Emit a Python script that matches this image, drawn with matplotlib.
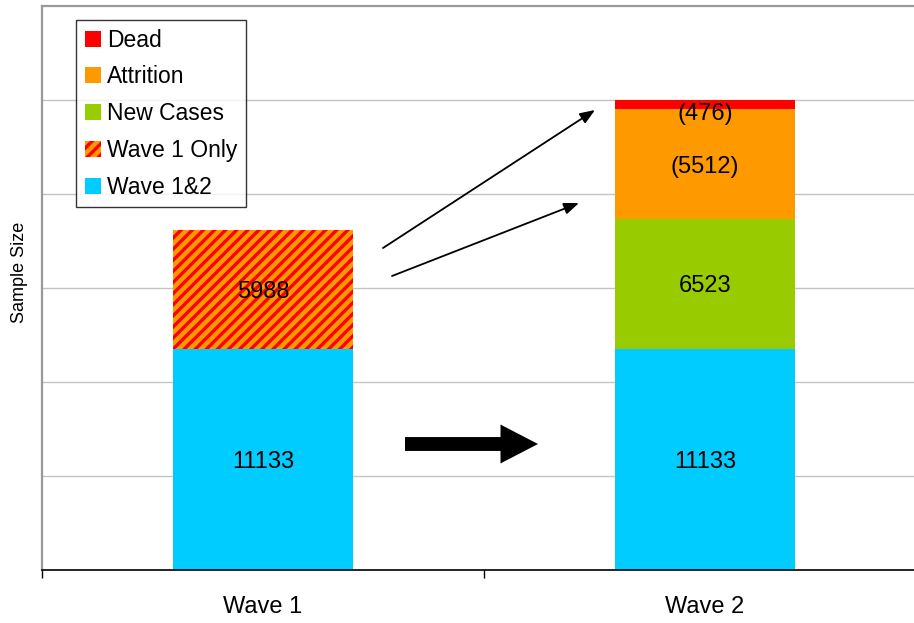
import matplotlib
matplotlib.use("Agg")
import matplotlib.pyplot as plt
import numpy as np

plt.rcParams['font.family'] = ['Liberation Sans', 'DejaVu Sans']
plt.rcParams['hatch.linewidth'] = 2.4

categories = ['Wave 1', 'Wave 2']
wave12 = [11133, 11133]
wave1_only = [5988, 0]
new_cases = [0, 6523]
attrition = [0, 5512]
dead = [0, 476]

labels_wave12 = ['11133', '11133']
labels_wave1_only = ['5988', '']
labels_new = ['', '6523']
labels_attr = ['', '(5512)']
labels_dead = ['', '(476)']

C_BLUE = '#00CCFF'
C_GREEN = '#99CC00'
C_ORANGE = '#FF9900'
C_RED = '#FF0000'

fig = plt.figure(figsize=(9.14, 6.23), dpi=100)
W, H = 914, 623
ax = fig.add_axes([42 / W, 53 / H, 884 / W, 564 / H])

x = np.arange(len(categories))
bw = 0.405

b0 = np.zeros(len(categories))
h_blue = ax.bar(x, wave12, bw, bottom=b0, color=C_BLUE, linewidth=0, zorder=2, label='Wave 1&2')
b1 = b0 + np.array(wave12)
h_hatch = ax.bar(x, wave1_only, bw, bottom=b1, facecolor=C_ORANGE, edgecolor=C_RED,
                 hatch='///', linewidth=0, zorder=2, label='Wave 1 Only')
b2 = b1 + np.array(wave1_only)
h_green = ax.bar(x, new_cases, bw, bottom=b2, color=C_GREEN, linewidth=0, zorder=2, label='New Cases')
b3 = b2 + np.array(new_cases)
h_orange = ax.bar(x, attrition, bw, bottom=b3, color=C_ORANGE, linewidth=0, zorder=2, label='Attrition')
b4 = b3 + np.array(attrition)
h_red = ax.bar(x, dead, bw, bottom=b4, color=C_RED, linewidth=0, zorder=2, label='Dead')

fs = 17
def put_labels(vals, bottoms, labels, dy=0):
    for xi, v, b, lab in zip(x, vals, bottoms, labels):
        if lab:
            ax.annotate(lab, (xi, b + v / 2), xytext=(0, dy), textcoords='offset points',
                        ha='center', va='center_baseline', fontsize=fs, color='black', zorder=5)

put_labels(wave12, b0, labels_wave12)
put_labels(wave1_only, b1, labels_wave1_only)
put_labels(new_cases, b2, labels_new)
put_labels(attrition, b3, labels_attr)
put_labels(dead, b4, labels_dead, dy=-5)

step = 4729
ax.set_ylim(0, 6 * step)
ax.set_xlim(-0.5, 1.5)
ax.set_yticks([step * k for k in range(1, 6)])
ax.yaxis.grid(True, color='#c4c4c4', linewidth=1.0, zorder=0)
ax.set_axisbelow(True)
ax.tick_params(axis='y', length=0, labelleft=False)

ax.set_xticks(x)
ax.set_xticklabels(categories, fontsize=fs)
ax.set_xticks([-0.5, 0.5, 1.5], minor=True)
ax.tick_params(axis='x', which='major', length=0, pad=19)
ax.tick_params(axis='x', which='minor', length=6, width=1, color='black', direction='out')

for s in ['left', 'top']:
    ax.spines[s].set_color('#999999')
    ax.spines[s].set_linewidth(1.6)
ax.spines['right'].set_visible(False)
ax.spines['bottom'].set_color('black')
ax.spines['bottom'].set_linewidth(1.2)

fig.text(20 / W, 1 - 272 / H, 'Sample Size', rotation=90, ha='center', va='center', fontsize=13)

# arrows
def px2data(px, py):
    return ((px - 263) / 442, (570 - py) * 6 * step / 564)

ax.annotate('', xy=px2data(595, 110), xytext=px2data(383, 248),
            arrowprops=dict(arrowstyle='-|>,head_length=0.9,head_width=0.35', color='black',
                            lw=1.3, shrinkA=0, shrinkB=0, mutation_scale=10), zorder=6)
ax.annotate('', xy=px2data(579, 203), xytext=px2data(392, 276),
            arrowprops=dict(arrowstyle='-|>,head_length=0.9,head_width=0.35', color='black',
                            lw=1.3, shrinkA=0, shrinkB=0, mutation_scale=10), zorder=6)
ax.annotate('', xy=px2data(538, 444), xytext=px2data(405, 444),
            arrowprops=dict(arrowstyle='simple,head_length=2.7,head_width=2.8,tail_width=1.0',
                            color='black', lw=0, shrinkA=0, shrinkB=0, mutation_scale=10), zorder=6)

leg = fig.legend([h_red, h_orange, h_green, h_hatch, h_blue],
                 ['Dead', 'Attrition', 'New Cases', 'Wave 1 Only', 'Wave 1&2'],
                 loc='upper left', bbox_to_anchor=(76 / W, 1 - 20 / H), borderaxespad=0,
                 fontsize=16.5, frameon=True, fancybox=False, edgecolor='black',
                 handlelength=0.7, handleheight=0.7, handletextpad=0.28,
                 labelspacing=0.6, borderpad=0.38)
leg.get_frame().set_linewidth(1.0)
leg.set_zorder(10)

fig.savefig('out.png', dpi=100)
